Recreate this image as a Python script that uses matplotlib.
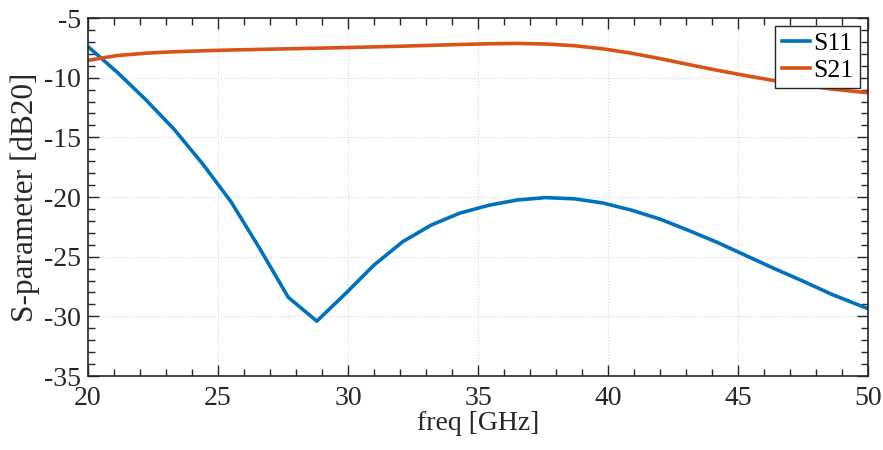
import matplotlib
matplotlib.use("Agg")
import matplotlib.pyplot as plt
from matplotlib.ticker import MultipleLocator

freq = [20.0, 21.1, 22.2, 23.3, 24.4, 25.5, 26.6, 27.7, 28.8, 29.9, 31.0, 32.1, 33.2, 34.3,
        35.4, 36.5, 37.6, 38.7, 39.8, 40.9, 42.0, 43.1, 44.2, 45.3, 46.4, 47.5, 48.6, 49.7, 50.0]
s11 = [-7.4, -9.5, -11.8, -14.3, -17.2, -20.4, -24.3, -28.4, -30.4, -28.1, -25.7, -23.75, -22.35,
       -21.35, -20.7, -20.25, -20.05, -20.15, -20.5, -21.1, -21.85, -22.8, -23.8, -24.9, -26.0,
       -27.05, -28.15, -29.1, -29.35]
s21 = [-8.55, -8.15, -7.95, -7.83, -7.75, -7.68, -7.63, -7.58, -7.53, -7.48, -7.42, -7.36, -7.29,
       -7.22, -7.16, -7.13, -7.18, -7.32, -7.58, -7.95, -8.4, -8.9, -9.38, -9.83, -10.25, -10.62,
       -10.95, -11.2, -11.26]
labels = ["S11", "S21"]
xticks = [20, 25, 30, 35, 40, 45, 50]
yticks = [-35, -30, -25, -20, -15, -10, -5]

plt.rcParams['font.family'] = ['Liberation Serif', 'DejaVu Serif']
plt.rcParams['axes.unicode_minus'] = False

fig = plt.figure(figsize=(8.83, 4.5), dpi=100)
ax = fig.add_axes([0.0997, 0.1644, 0.8833, 0.7956])

ax.plot(freq, s11, color='#0072BD', lw=2.6, label=labels[0])
ax.plot(freq, s21, color='#D95319', lw=2.6, label=labels[1])

ax.set_xlim(20, 50)
ax.set_ylim(-35, -5)
ax.set_xticks(xticks)
ax.set_yticks(yticks)
ax.xaxis.set_minor_locator(MultipleLocator(1))
ax.yaxis.set_minor_locator(MultipleLocator(1))
ax.tick_params(which='both', direction='in', top=True, right=True, color='#262626',
               labelsize=20, labelcolor='#262626')
ax.tick_params(which='major', length=8, width=1.0)
ax.tick_params(which='minor', length=5, width=1.0)
ax.tick_params(axis='x', pad=7)
ax.tick_params(axis='y', pad=5)
for sp in ax.spines.values():
    sp.set_color('#262626')
    sp.set_linewidth(1.2)
ax.grid(True, which='major', linestyle=':', color='#d8d8d8', linewidth=0.8)
ax.set_axisbelow(True)

ax.set_xlabel('freq [GHz]', fontsize=20, color='#262626', labelpad=0)
ax.set_ylabel('S-parameter [dB20]', fontsize=22.5, color='#262626', labelpad=3)

leg = ax.legend(loc='upper right', fontsize=18.5, fancybox=False, edgecolor='#262626',
                framealpha=1, handlelength=1.1, handletextpad=0.15, borderpad=0.25,
                labelspacing=0.15, borderaxespad=0.3)
leg.get_frame().set_linewidth(1.0)

fig.savefig('out.png', dpi=100)
